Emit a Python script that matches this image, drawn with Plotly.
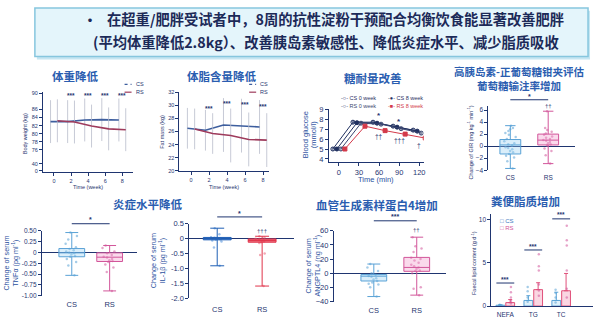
import plotly.graph_objects as go

W, H = 600, 324
NAVY = "#1f3570"
TBLUE = "#2a5db0"
LAT = "Liberation Sans, Arial, sans-serif"
CJK = "Noto Sans CJK SC, sans-serif"

# ---------------- data ----------------
weeks = [0, 2, 4, 6, 8]
bw_cs = [83.0, 83.0, 83.4, 83.5, 83.4]
bw_rs = [83.2, 82.9, 81.9, 81.2, 81.0]
bw_sd = [5.3, 5.3, 5.3, 5.3, 5.3]
bw_ticks = [70.8, 72.6, 76, 78, 80, 82, 84, 86, 90]
bw_ticktext = ["0", "40", "76", "78", "80", "82", "84", "86", "90"]

fm_cs = [26.5, 26.2, 27.0, 26.9, 26.7]
fm_rs = [26.4, 25.7, 25.4, 24.8, 24.7]
fm_sd = [3.1, 3.1, 4.1, 4.1, 4.1]

ogtt_t = [0, 30, 60, 90, 120]
cs0 = [5.0, 7.7, 7.7, 7.3, 6.9]
cs8 = [5.0, 7.65, 7.6, 7.2, 6.8]
rs0 = [5.0, 7.6, 7.5, 7.05, 6.6]
rs8 = [5.0, 7.3, 6.85, 6.5, 6.1]

groups = ["CS", "RS"]
# box stats: lowerfence, q1, median, q3, upperfence
gir_box = {"CS": [-3.7, -1.3, 0.2, 1.1, 3.4], "RS": [-2.9, 0.2, 1.0, 2.0, 5.8]}
gir_pts = {"CS": [3.4, 3.0, 2.8, 2.5, 2.2, 1.9, 1.5, 1.2, 0.8, 0.5, 0.3, 0.1, -0.2, -0.3, -0.5, -0.8, -1.0, -1.3, -1.6, -1.9, -2.5, -3.7],
           "RS": [5.8, 3.0, 2.7, 2.4, 2.1, 1.9, 1.6, 1.4, 1.2, 1.0, 0.9, 0.7, 0.5, 0.3, 0.1, -0.4, -0.8, -1.5, -2.9]}
tnf_box = {"CS": [-0.53, -0.10, -0.01, 0.09, 0.46], "RS": [-0.89, -0.21, -0.11, -0.01, 0.16]}
tnf_pts = {"CS": [0.46, 0.38, 0.30, 0.20, 0.12, 0.08, 0.05, 0.02, 0.0, -0.02, -0.05, -0.08, -0.10, -0.15, -0.22, -0.30, -0.53],
           "RS": [0.16, 0.10, 0.02, -0.02, -0.06, -0.10, -0.12, -0.15, -0.18, -0.20, -0.22, -0.28, -0.35, -0.45, -0.89]}
il_box = {"CS": [-0.91, -0.04, -0.01, 0.04, 0.35], "RS": [-1.59, -0.12, -0.06, -0.01, 0.08]}
il_pts = {"CS": [0.35, 0.15, 0.05, 0.03, 0.01, 0.0, -0.02, -0.04, -0.06, -0.10, -0.30, -0.91],
          "RS": [0.08, 0.04, 0.0, -0.03, -0.06, -0.08, -0.10, -0.12, -0.15, -0.50, -0.55, -1.59]}
ang_box = {"CS": [-33, -11, -4.2, -1.9, 13], "RS": [-31, 2.7, 8.2, 22.4, 51]}
ang_pts = {"CS": [13, 8, 3, 0, -2, -4, -5, -7, -9, -11, -13, -15, -16, -20, -33],
           "RS": [51, 38, 35, 30, 22, 20, 18, 15, 12, 10, 8, 6, 4, 3, 0, -20, -22, -31]}

lipids = ["NEFA", "TG", "TC"]
lip_cs = [0.1, 0.65, 0.65]
lip_rs = [0.4, 1.9, 1.77]
lip_cs_err = [0.05, 0.55, 0.95]
lip_rs_err = [0.35, 0.8, 2.0]
lip_cs_pts = [[0.1, 0.15, 0.05], [2.2, 1.7, 1.0, 0.5], [1.9, 1.5, 1.0, 0.4]]
lip_rs_pts = [[2.2, 1.6, 1.0, 0.6, 0.3], [6.0, 4.6, 4.1, 2.5, 1.8, 1.2], [9.3, 7.6, 7.0, 4.1, 2.0, 1.0]]

# ---------------- helpers ----------------
def dx(a, b):
    return [a / W, b / W]

def dy(top, bottom):
    return [1 - bottom / H, 1 - top / H]

def py(v):
    return 1 - v / H

def px(v):
    return v / W

def axis(domain, rng, anchor, **kw):
    d = dict(domain=domain, range=rng, anchor=anchor, showline=True, linecolor=NAVY,
             linewidth=1, ticks="outside", ticklen=3, tickwidth=1, tickcolor=NAVY,
             tickfont=dict(size=6, color=NAVY, family=LAT), showgrid=False,
             zeroline=False, fixedrange=True)
    d.update(kw)
    return d

anns = []
shapes = []

def text(t, x, y, size, color=NAVY, angle=0, xanchor="center", family=LAT, xref="paper", yref="paper"):
    anns.append(dict(text=t, x=x, y=y, xref=xref, yref=yref, showarrow=False,
                     font=dict(size=size, color=color, family=family), textangle=angle,
                     xanchor=xanchor, yanchor="middle"))

fig = go.Figure()

# ---------------- header box ----------------
shapes.append(dict(type="rect", xref="paper", yref="paper", x0=px(37), x1=px(592), y0=py(57), y1=py(7),
                   fillcolor="#c6e6f2", line=dict(width=0), layer="below"))
shapes.append(dict(type="rect", xref="paper", yref="paper", x0=px(35), x1=px(590), y0=py(54), y1=py(4),
                   fillcolor="#e4f5fb", line=dict(color="#86c6de", width=1.5), layer="below"))
text("<b>•</b>", px(90), py(15), 14, "#1c2a58", family=CJK)
text("<b>在超重/肥胖受试者中，8周的抗性淀粉干预配合均衡饮食能显著改善肥胖</b>", px(105), py(15), 14.3, "#1c2a58", xanchor="left", family=CJK)
text("<b>(平均体重降低2.8kg）、改善胰岛素敏感性、降低炎症水平、减少脂质吸收</b>", px(91), py(39), 14.3, "#1c2a58", xanchor="left", family=CJK)

# ---------------- panel 1: body weight ----------------
for vals, col in [(bw_cs, "#3d5e9e"), (bw_rs, "#9e3b5c")]:
    fig.add_trace(go.Scatter(x=weeks, y=vals, mode="lines", line=dict(color=col, width=1.6),
                             error_y=dict(type="data", array=bw_sd, color="#b9bccb", thickness=0.8, width=0),
                             xaxis="x", yaxis="y", showlegend=False))
text("<b>体重降低</b>", px(76), py(74), 11.5, TBLUE, family=CJK)
for w in weeks[1:]:
    text("<b>***</b>", w, py(94), 6.5, NAVY, xref="x")
text("Body weight (kg)", px(25), py(133), 5.5, NAVY, angle=-90)
text("Time (week)", px(88), py(188), 5.5, NAVY)

# ---------------- panel 2: fat mass ----------------
for vals, col in [(fm_cs, "#3d5e9e"), (fm_rs, "#9e3b5c")]:
    fig.add_trace(go.Scatter(x=weeks, y=vals, mode="lines", line=dict(color=col, width=1.6),
                             error_y=dict(type="data", array=fm_sd, color="#b9bccb", thickness=0.8, width=0),
                             xaxis="x2", yaxis="y2", showlegend=False))
text("<b>体脂含量降低</b>", px(222), py(74), 11.5, TBLUE, family=CJK)
for w, yy in zip(weeks[1:], [107, 102, 103, 105]):
    text("<b>***</b>", w, py(yy), 6.5, NAVY, xref="x2")
text("Fat mass (kg)", px(163), py(131), 5.5, NAVY, angle=-90)
text("Time (week)", px(225), py(188), 5.5, NAVY)

# legends panels 1 & 2 (swatches)
for lx in (125, 250):
    shapes.append(dict(type="line", xref="paper", yref="paper", x0=px(lx), x1=px(lx + 7), y0=py(82.7), y1=py(82.7),
                       line=dict(color="#3d5e9e", width=1.2, dash="dot")))
    shapes.append(dict(type="line", xref="paper", yref="paper", x0=px(lx), x1=px(lx + 7), y0=py(90.7), y1=py(90.7),
                       line=dict(color="#9e3b5c", width=1.2)))
    text("CS", px(lx + 9), py(82.7), 5.5, NAVY, xanchor="left")
    text("RS", px(lx + 9), py(90.7), 5.5, NAVY, xanchor="left")

# ---------------- panel 3: OGTT ----------------
ogtt_series = [
    (cs0, "#1f2f5f", "circle-open", 4),
    (cs8, "#1f2f5f", "circle", 4),
    (rs0, "#3a4670", "circle-open", 4),
    (rs8, "#d33a4a", "square", 4),
]
for vals, col, sym, sz in ogtt_series:
    fig.add_trace(go.Scatter(x=ogtt_t, y=vals, mode="lines+markers", line=dict(color=col, width=1),
                             marker=dict(symbol=sym, size=sz, color=col, line=dict(color=col, width=1)),
                             error_y=dict(type="data", array=[0.12] * 5, color=col, thickness=0.6, width=1.5),
                             xaxis="x3", yaxis="y3", showlegend=False))
text("<b>糖耐量改善</b>", px(374), py(76), 11.5, TBLUE, family=CJK)
text("Blood glucose", px(306), py(134), 7.5, "#2a4f9e", angle=-90)
text("(mmol/l)", px(314), py(134), 7.5, "#2a4f9e", angle=-90)
text("Time (min)", px(377), py(181), 7.5, "#2a4f9e")
text("<b>*</b>", 60, py(115), 8, NAVY, xref="x3")
text("<b>*</b>", 90, py(121), 8, NAVY, xref="x3")
text("††", 60, py(136), 6.5, NAVY, xref="x3")
text("†††", 90, py(140), 6.5, NAVY, xref="x3")
text("†", 120, py(146), 6.5, NAVY, xref="x3")
text("-○- CS 0 week", px(340), py(97), 5.5, "#1f2f5f", xanchor="left")
text("-●- CS 8 week", px(387), py(97), 5.5, "#1f2f5f", xanchor="left")
text("-○- RS 0 week", px(340), py(104.5), 5.5, "#3a4670", xanchor="left")
text("-■- RS 8 week", px(387), py(104.5), 5.5, "#d33a4a", xanchor="left")

# ---------------- box panels ----------------
CS_LINE, CS_FILL, CS_PT = "#5aa2d6", "rgba(150,205,240,0.35)", "rgba(90,162,214,0.55)"
RS_LINE, RS_FILL, RS_PT = "#d2569a", "rgba(240,150,200,0.35)", "rgba(210,86,154,0.55)"

def box_panel(ax, stats, pts, styles, width=0.62):
    xa = "x" + ax
    ya = "y" + ax
    for i, g in enumerate(groups):
        line, fill, ptc = styles[g]
        fig.add_trace(go.Box(x0=i, y=pts[g], boxpoints="all", jitter=0.8, pointpos=0, width=width * 0.8,
                             fillcolor="rgba(0,0,0,0)", line=dict(color="rgba(0,0,0,0)", width=0),
                             marker=dict(size=2.5, color=ptc), xaxis=xa, yaxis=ya, showlegend=False,
                             hoverinfo="skip"))
        lo, q1, med, q3, hi = stats[g]
        fig.add_trace(go.Box(x=[i], lowerfence=[lo], q1=[q1], median=[med], q3=[q3], upperfence=[hi],
                             boxpoints=False, width=width, whiskerwidth=0.5, fillcolor=fill,
                             line=dict(color=line, width=1), xaxis=xa, yaxis=ya, showlegend=False))

std_styles = {"CS": (CS_LINE, CS_FILL, CS_PT), "RS": (RS_LINE, RS_FILL, RS_PT)}
il_styles = {"CS": ("#1f5fb5", "rgba(40,100,190,0.75)", "rgba(90,150,220,0.6)"),
             "RS": ("#e0334a", "rgba(230,60,80,0.75)", "rgba(235,110,130,0.6)")}

box_panel("4", gir_box, gir_pts, std_styles, width=0.55)
box_panel("5", tnf_box, tnf_pts, std_styles, width=0.68)
box_panel("6", il_box, il_pts, il_styles, width=0.62)
box_panel("7", ang_box, ang_pts, std_styles, width=0.6)

def sig(ax, y_line, y_text, label, size=7):
    shapes.append(dict(type="line", xref="x" + ax, yref="paper", x0=0, x1=1, y0=py(y_line), y1=py(y_line),
                       line=dict(color=NAVY, width=1)))
    text("<b>" + label + "</b>", 0.5, py(y_text), size, NAVY, xref="x" + ax)

text("<b>高胰岛素-正葡萄糖钳夹评估<br>葡萄糖输注率增加</b>", px(521), py(76.5), 10.5, TBLUE, family=CJK)
sig("4", 98.5, 95, "*")
text("††", 1, py(105), 6, NAVY, xref="x4")
text("Change of GIR (mg kg<sup>-1</sup> min<sup>-1</sup>)", px(472), py(142), 5.5, NAVY, angle=-90)

text("<b>炎症水平降低</b>", px(148), py(206), 11.5, TBLUE, family=CJK)
sig("5", 226, 222, "*")
text("Change of serum", px(7), py(266), 7.2, "#2a4f9e", angle=-90)
text("TNFα (pg ml<sup>-1</sup>)", px(15), py(266), 7.2, "#2a4f9e", angle=-90)

sig("6", 219, 215, "*")
text("†††", 1, py(233), 6, NAVY, xref="x6")
text("Change of serum", px(154), py(264), 7.2, "#2a4f9e", angle=-90)
text("IL-1β (pg ml<sup>-1</sup>)", px(162), py(264), 7.2, "#2a4f9e", angle=-90)

text("<b>血管生成素样蛋白4增加</b>", px(378), py(207), 11.5, TBLUE, family=CJK)
sig("7", 223, 219, "***")
text("††", 1, py(232), 6, NAVY, xref="x7")
text("Change of serum", px(310), py(269), 7.2, "#2a4f9e", angle=-90)
text("ANGPTL4 (ng ml<sup>-1</sup>)", px(318), py(269), 7.2, "#2a4f9e", angle=-90)

# ---------------- panel 8: faecal lipids ----------------
fig.add_trace(go.Bar(x=lipids, y=lip_cs, offsetgroup="CS", marker=dict(color="rgba(150,205,240,0.3)", line=dict(color=CS_LINE, width=1)),
                     error_y=dict(type="data", symmetric=False, array=lip_cs_err, arrayminus=[0] * 3, color=CS_LINE, thickness=1, width=2),
                     xaxis="x8", yaxis="y8", showlegend=False))
fig.add_trace(go.Bar(x=lipids, y=lip_rs, offsetgroup="RS", marker=dict(color="rgba(240,120,160,0.3)", line=dict(color="#e0507a", width=1)),
                     error_y=dict(type="data", symmetric=False, array=lip_rs_err, arrayminus=[0] * 3, color="#e0507a", thickness=1, width=2),
                     xaxis="x8", yaxis="y8", showlegend=False))
cs_x = [c for c, p in zip(lipids, lip_cs_pts) for _ in p]
cs_y = [v for p in lip_cs_pts for v in p]
rs_x = [c for c, p in zip(lipids, lip_rs_pts) for _ in p]
rs_y = [v for p in lip_rs_pts for v in p]
fig.add_trace(go.Scatter(x=cs_x, y=cs_y, mode="markers", offsetgroup="CS", marker=dict(size=2.5, color=CS_PT),
                         xaxis="x8", yaxis="y8", showlegend=False))
fig.add_trace(go.Scatter(x=rs_x, y=rs_y, mode="markers", offsetgroup="RS", marker=dict(size=2.5, color=RS_PT),
                         xaxis="x8", yaxis="y8", showlegend=False))
text("<b>粪便脂质增加</b>", px(527), py(203), 11.5, TBLUE, family=CJK)
for i, (yl, yt) in enumerate([(287, 283), (253, 249), (221, 217)]):
    shapes.append(dict(type="line", xref="x8", yref="paper", x0=i - 0.32, x1=i + 0.32, y0=py(yl), y1=py(yl),
                       line=dict(color=NAVY, width=1)))
    text("<b>***</b>", i, py(yt), 6.5, NAVY, xref="x8")
text("Faecal lipid content (g d<sup>-1</sup>)", px(475), py(266), 5.5, NAVY, angle=-90)
text("□ CS", px(500), py(223.5), 6, "#3a78c0", xanchor="left")
text("□ RS", px(500), py(230.5), 6, "#d2569a", xanchor="left")

# ---------------- axes ----------------
small = dict(size=5.5, color=NAVY, family=LAT)
mid = dict(size=6.5, color=NAVY, family=LAT)
big = dict(size=7.5, color=NAVY, family=LAT)
cat = dict(size=7.5, color=NAVY, family=LAT)

fig.update_layout(
    xaxis=axis(dx(43, 133), [-1.3, 9.2], "y", tickvals=weeks, tickfont=small),
    yaxis=axis(dy(91, 173), [70.5, 90.2], "x", tickvals=bw_ticks, ticktext=bw_ticktext, tickfont=small),
    xaxis2=axis(dx(180, 270), [-1.29, 8.66], "y2", tickvals=weeks, tickfont=small),
    yaxis2=axis(dy(90.7, 171.7), [20, 32], "x2", tickvals=[20, 22, 24, 26, 28, 30, 32], tickfont=small),
    xaxis3=axis(dx(330, 425), [-14.9, 126.5], "y3", tickvals=ogtt_t, tickfont=big),
    yaxis3=axis(dy(108, 162), [3.74, 9.03], "x3", tickvals=[4, 5, 6, 7, 8, 9], tickfont=big),
    xaxis4=axis(dx(490, 577), [-0.58, 1.71], "y4", tickvals=[0, 1], ticktext=groups, showline=False, ticks="", tickfont=mid, ticklabelstandoff=2),
    yaxis4=axis(dy(105, 171), [-4, 6.65], "x4", tickvals=[-4, -2, 0, 2, 4, 6], tickfont=mid, zeroline=True, zerolinecolor=NAVY, zerolinewidth=1),
    xaxis5=axis(dx(42, 137), [-0.79, 1.71], "y5", tickvals=[0, 1], ticktext=groups, showline=False, ticks="", tickfont=cat, ticklabelstandoff=3),
    yaxis5=axis(dy(233.3, 300), [-1.0, 0.5], "x5", tickvals=[-1, -0.75, -0.5, -0.25, 0, 0.25, 0.5],
                ticktext=["-1.00", "-0.75", "-0.50", "-0.25", "0", "0.25", "0.50"], tickfont=mid, zeroline=True, zerolinecolor=NAVY, zerolinewidth=1),
    xaxis6=axis(dx(190, 295), [-0.62, 1.71], "y6", tickvals=[0, 1], ticktext=groups, showline=False, ticks="", tickfont=cat, ticklabelstandoff=5),
    yaxis6=axis(dy(226, 302.7), [-2.0, 0.5], "x6", tickvals=[-2, -1.5, -1, -0.5, 0, 0.5],
                ticktext=["-2.0", "-1.5", "-1.0", "-0.5", "0", "0.5"], tickfont=big, zeroline=True, zerolinecolor=NAVY, zerolinewidth=1),
    xaxis7=axis(dx(335, 447), [-0.93, 1.67], "y7", tickvals=[0, 1], ticktext=groups, showline=False, ticks="", tickfont=cat, ticklabelstandoff=3),
    yaxis7=axis(dy(233.3, 306), [-40, 60], "x7", tickvals=[-40, -20, 0, 20, 40, 60], tickfont=big, zeroline=True, zerolinecolor=NAVY, zerolinewidth=1),
    xaxis8=axis(dx(493, 595), [-0.5, 3.14], "y8", type="category", ticks="", tickfont=mid, ticklabelstandoff=2),
    yaxis8=axis(dy(216.4, 310.7), [0, 10.6], "x8", tickvals=[0, 5, 10], tickfont=mid),
)

fig.update_layout(
    width=W, height=H, margin=dict(l=0, r=0, t=0, b=0),
    paper_bgcolor="white", plot_bgcolor="rgba(0,0,0,0)",
    barmode="group", bargap=0.3, bargroupgap=0.1, scattermode="group", boxmode="overlay",
    annotations=anns, shapes=shapes, showlegend=False,
    font=dict(family=LAT, color=NAVY),
)

fig.write_html("out.html")
